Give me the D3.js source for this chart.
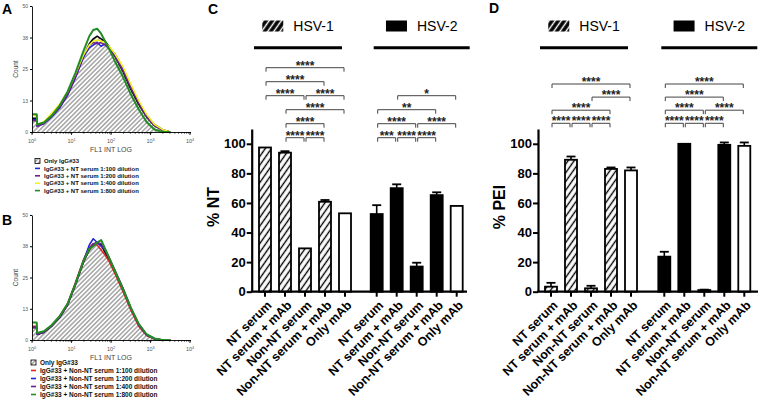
<!DOCTYPE html>
<html>
<head>
<meta charset="utf-8">
<script src="https://cdn.jsdelivr.net/npm/d3@7"></script>
<style>
  body { margin: 0; background: #fff; }
  svg { display: block; font-family: Arial, "Liberation Sans", sans-serif; }
</style>
</head>
<body>
<div id="fig"></div>
<script>
// ---- flow histograms (A, B): x in log10 units, y = count ----
var logBins = [0, 0.12, 0.13, 0.3, 0.5, 0.7, 0.9, 1.1, 1.3, 1.45, 1.55, 1.65, 1.75, 1.85, 1.95, 2.1, 2.3, 2.5, 2.7, 2.9, 3.1, 3.3, 3.5];

var onlyA   = [5.5, 5.5, 2.5, 3.5, 6.5, 10, 15, 22, 30, 35, 37, 38, 37, 36, 34, 30, 24, 17, 11, 6, 2.5, 0.8, 0];
var blueA   = [5, 5, 2.3, 3.3, 6, 9.5, 14.5, 21.5, 29.5, 33.5, 34.5, 35.5, 34, 35, 33.5, 31, 25.5, 18.5, 12, 6.5, 3, 1, 0];
var purpleA = [4.5, 4.5, 2.2, 3.4, 6.2, 9.8, 14.8, 21.8, 30, 34.5, 35.5, 35, 35.5, 34.5, 33, 30, 24.5, 17.5, 11.5, 6, 2.5, 0.8, 0];
var yellowA = [6.5, 6.5, 3, 4, 7.5, 11, 16, 23, 30.5, 34.5, 36, 36.5, 36, 35.5, 34, 31, 26, 19, 12.5, 7, 3, 1, 0];
var greenA  = [7, 7, 3, 3.8, 6.5, 10.5, 16, 23.5, 32, 38, 40.5, 41, 39, 36, 33, 28, 22, 15, 9, 4, 1, 0, 0];

var onlyB   = [5, 5, 2.2, 3, 5.5, 9, 14, 22, 31, 36, 38, 39, 38, 35, 32, 27, 20, 12.5, 6, 2, 0.5, 0, 0];
var redB    = [5.5, 5.5, 2.5, 3.3, 5.8, 9.5, 14.5, 23, 32, 37, 38.5, 38, 36, 34, 31.5, 26.5, 19.5, 12, 5.5, 1.8, 0.4, 0, 0];
var blueB   = [5, 5, 2.3, 3.2, 5.8, 9.2, 14.2, 22.5, 31.5, 38, 40.5, 39, 37.5, 36, 33, 27.5, 20.5, 12.8, 6.2, 2, 0.5, 0, 0];
var purpleB = [5, 5, 2.3, 3.2, 5.6, 9.1, 14, 22.2, 31, 36.5, 38.5, 39, 38.5, 36, 33, 28, 21, 13, 6.5, 2.2, 0.6, 0, 0];
var greenB  = [7, 7, 2.8, 3.5, 6, 9.5, 14.5, 22.5, 31.5, 36.5, 37.5, 39, 40, 36.5, 33, 27.5, 20.5, 13, 6.5, 2.3, 0.6, 0, 0];

var countTicks = [0, 12.5, 25, 37.5, 50];
var decades = [0, 1, 2, 3, 4];

var legendA = ["Only IgG#33", "IgG#33 + NT serum 1:100 dilution", "IgG#33 + NT serum 1:200 dilution",
               "IgG#33 + NT serum 1:400 dilution", "IgG#33 + NT serum 1:800 dilution"];
var legendB = ["Only IgG#33", "IgG#33 + Non-NT serum 1:100 dilution", "IgG#33 + Non-NT serum 1:200 dilution",
               "IgG#33 + Non-NT serum 1:400 dilution", "IgG#33 + Non-NT serum 1:800 dilution"];
var colorsA = ["#2323d6", "#6d1f8e", "#f4f41c", "#238c23"];
var colorsB = ["#e02222", "#2323d6", "#6d1f8e", "#238c23"];

// ---- bar charts (C, D) ----
var viruses = ["HSV-1", "HSV-2"];
var conditions = ["NT serum", "NT serum + mAb", "Non-NT serum", "Non-NT serum + mAb", "Only mAb"];
var ntHsv1 = [97.5, 94, 29.3, 60.8, 53];
var ntErr1 = [0, 1, 0, 1.2, 0];
var ntHsv2 = [52.5, 70, 17, 65.3, 58];
var ntErr2 = [6, 2.6, 2.6, 1.9, 0];
var peiHsv1 = [3.4, 89.2, 2.3, 83, 82];
var peiErr1 = [2.6, 2.2, 1.7, 1, 2];
var peiHsv2 = [23.7, 100, 1.1, 99.3, 98.6];
var peiErr2 = [3.3, 0, 0.3, 1.6, 2.3];
var pctTicks = [0, 20, 40, 60, 80, 100];

// comparisons: [virus, from, to, label, row]
var ntTests = [
  [0, 0, 4, "****", 5], [0, 0, 3, "****", 4], [0, 0, 2, "****", 3], [0, 2, 4, "****", 3],
  [0, 1, 4, "****", 2], [0, 1, 3, "****", 1], [0, 1, 2, "****", 0], [0, 2, 3, "****", 0],
  [1, 1, 4, "*", 3], [1, 0, 3, "**", 2], [1, 0, 2, "****", 1], [1, 2, 4, "****", 1],
  [1, 0, 1, "***", 0], [1, 1, 2, "****", 0], [1, 2, 3, "****", 0]
];
var peiTests = [
  [0, 0, 4, "****", 3], [0, 2, 4, "****", 2], [0, 0, 3, "****", 1],
  [0, 0, 1, "****", 0], [0, 1, 2, "****", 0], [0, 2, 3, "****", 0],
  [1, 0, 4, "****", 3], [1, 0, 3, "****", 2], [1, 0, 2, "****", 1], [1, 2, 4, "****", 1],
  [1, 0, 1, "****", 0], [1, 1, 2, "****", 0], [1, 2, 3, "****", 0]
];

var svg = d3.select("#fig").append("svg")
  .attr("width", 760)
  .attr("height", 408);

var defs = svg.append("defs");
function hatch(id, size, stroke, width, angle, bg) {
  var p = defs.append("pattern")
    .attr("id", id)
    .attr("patternUnits", "userSpaceOnUse")
    .attr("width", size)
    .attr("height", size)
    .attr("patternTransform", "rotate(" + angle + ")");
  p.append("rect").attr("width", size).attr("height", size).attr("fill", bg);
  p.append("line")
    .attr("x1", size / 2).attr("x2", size / 2)
    .attr("y1", 0).attr("y2", size)
    .attr("stroke", stroke)
    .attr("stroke-width", width);
}
hatch("hatchBar", 5, "#000", 1.4, 35, "#fff");
hatch("hatchHist", 3.2, "#555", 0.8, 45, "#fff");
hatch("hatchKey", 5, "#fff", 1.5, 35, "#000");

// panel letters
[["A", 2, 13.5], ["B", 2, 225], ["C", 208, 13.5], ["D", 489, 12.5]].forEach(function(l) {
  svg.append("text")
    .attr("x", l[1]).attr("y", l[2])
    .attr("font-size", 14).attr("font-weight", "bold")
    .text(l[0]);
});

function drawHist(top, bottom, series, colors, labels, key) {
  var g = svg.append("g");
  var x = d3.scaleLog().domain([1, 1e4]).range([32, 190]);
  var y = d3.scaleLinear().domain([0, 50]).range([bottom, top]);
  var pts = function(vals) {
    return vals.map(function(v, i) { return [Math.pow(10, logBins[i]), v]; });
  };
  var area = d3.area().x(d => x(d[0])).y0(y(0)).y1(d => y(d[1]));
  var line = d3.line().x(d => x(d[0])).y(d => y(d[1]));

  g.append("path").attr("d", area(pts(series[0]))).attr("fill", "url(#hatchHist)");
  series.forEach(function(s, i) {
    g.append("path")
      .attr("d", line(pts(s)))
      .attr("fill", "none")
      .attr("stroke", i ? colors[i - 1] : "#000")
      .attr("stroke-width", i == series.length - 1 ? 2 : 1.5)
      .attr("stroke-linejoin", "round");
  });

  var yAx = g.append("g")
    .attr("transform", "translate(32,0)")
    .call(d3.axisLeft(y).tickValues(countTicks).tickFormat(d3.format(".0f")).tickSize(2).tickPadding(2).tickSizeOuter(0));
  yAx.attr("font-family", null);
  yAx.select(".domain").attr("stroke-width", 0.9);
  yAx.selectAll("text").attr("font-size", 5).attr("fill", "#555");

  var xAx = g.append("g")
    .attr("transform", "translate(0," + bottom + ")")
    .call(d3.axisBottom(x).tickValues(x.ticks()).tickFormat("").tickSize(1.5).tickSizeOuter(0));
  xAx.select(".domain").attr("stroke-width", 0.9);
  decades.forEach(function(d) {
    var xv = x(Math.pow(10, d));
    g.append("line").attr("x1", xv).attr("x2", xv).attr("y1", bottom).attr("y2", bottom + 3).attr("stroke", "#000").attr("stroke-width", 0.8);
    var t = g.append("text").attr("x", xv).attr("y", bottom + 11).attr("text-anchor", "middle")
      .attr("font-size", 5.5).attr("fill", "#555");
    t.append("tspan").text("10");
    t.append("tspan").attr("dy", -2.5).attr("font-size", 3.8).text(d);
  });
  g.append("text").attr("x", 111).attr("y", bottom + 19.5).attr("text-anchor", "middle")
    .attr("font-size", 7).attr("fill", "#444").text("FL1 INT LOG");
  g.append("text").attr("transform", "translate(18," + ((top + bottom) / 2) + ") rotate(-90)")
    .attr("text-anchor", "middle").attr("font-size", 6.5).attr("fill", "#444").text("Count");

  labels.forEach(function(t, i) {
    var cy = key.top + i * key.step;
    if (i == 0) {
      g.append("rect").attr("x", key.x).attr("y", cy - 2.5).attr("width", 5).attr("height", 5)
        .attr("fill", "url(#hatchHist)").attr("stroke", "#000").attr("stroke-width", 0.8);
    } else {
      g.append("line").attr("x1", key.x).attr("x2", key.x + 5).attr("y1", cy).attr("y2", cy)
        .attr("stroke", colors[i - 1]).attr("stroke-width", 1.6);
    }
    g.append("text").attr("x", key.x + 9).attr("y", cy).attr("dy", "0.35em")
      .attr("font-size", key.fs).attr("font-weight", "bold").attr("fill", "#111").text(t);
  });
}

drawHist(6, 132, [onlyA, blueA, purpleA, yellowA, greenA], colorsA, legendA, {x: 35, top: 161, step: 7.4, fs: 6});
drawHist(215, 340, [onlyB, redB, blueB, purpleB, greenB], colorsB, legendB, {x: 31, top: 362.5, step: 8, fs: 6.5});

function drawBars(p) {
  var g = svg.append("g");
  var y = d3.scaleLinear().domain([0, 110]).range([291.7, 129]);
  var outer = d3.scaleBand().domain(viruses).range([p.x0, p.x1]).paddingInner(p.gap / (100 + p.gap));
  var inner = d3.scaleBand().domain(conditions).range([0, outer.bandwidth()]).paddingInner(0.3).paddingOuter(0.15);
  var cx = function(vi, ci) { return outer(viruses[vi]) + inner(conditions[ci]) + inner.bandwidth() / 2; };
  var fill = function(vi, ci) { return ci == 4 ? "#fff" : (vi == 0 ? "url(#hatchBar)" : "#000"); };

  var rows = [];
  viruses.forEach(function(v, vi) {
    conditions.forEach(function(c, ci) {
      rows.push({vi: vi, ci: ci, m: p.means[vi][ci], e: p.errs[vi][ci]});
    });
  });

  // error bars (upper half)
  rows.filter(d => d.e > 0).forEach(function(d) {
    var xc = cx(d.vi, d.ci);
    g.append("line").attr("x1", xc).attr("x2", xc).attr("y1", y(d.m)).attr("y2", y(d.m + d.e))
      .attr("stroke", "#000").attr("stroke-width", 1.6);
    g.append("line").attr("x1", xc - 4.5).attr("x2", xc + 4.5).attr("y1", y(d.m + d.e)).attr("y2", y(d.m + d.e))
      .attr("stroke", "#000").attr("stroke-width", 1.8);
  });

  g.selectAll("rect.bar")
    .data(rows)
    .enter()
    .append("rect")
    .attr("class", "bar")
    .attr("x", d => cx(d.vi, d.ci) - inner.bandwidth() / 2 + 1)
    .attr("width", inner.bandwidth() - 2)
    .attr("y", d => y(d.m))
    .attr("height", d => y(0) - y(d.m))
    .attr("fill", d => fill(d.vi, d.ci))
    .attr("stroke", "#000")
    .attr("stroke-width", 1.8);

  // axes
  var ya = g.append("g")
    .attr("transform", "translate(" + p.axisX + ",0)")
    .call(d3.axisLeft(y).tickValues(pctTicks).tickSize(5).tickPadding(1).tickSizeOuter(0));
  ya.attr("font-family", null);
  ya.select(".domain").attr("stroke-width", 2.2);
  ya.selectAll(".tick line").attr("stroke-width", 2);
  ya.selectAll("text").attr("font-size", 13).attr("font-weight", "bold").attr("fill", "#000");

  g.append("line").attr("x1", p.axisX - 1).attr("x2", p.xEnd).attr("y1", y(0)).attr("y2", y(0))
    .attr("stroke", "#000").attr("stroke-width", 2.2);
  rows.forEach(function(d) {
    var xc = cx(d.vi, d.ci);
    g.append("line").attr("x1", xc).attr("x2", xc).attr("y1", y(0)).attr("y2", y(0) + 5)
      .attr("stroke", "#000").attr("stroke-width", 2);
    g.append("text")
      .attr("transform", "translate(" + (xc + 2) + "," + (y(0) + 9) + ") rotate(-45)")
      .attr("text-anchor", "end")
      .attr("dy", "0.6em")
      .attr("font-size", 12.5)
      .attr("font-weight", "bold")
      .text(conditions[d.ci]);
  });

  g.append("text")
    .attr("transform", "translate(" + p.labelX + ",207) rotate(-90)")
    .attr("text-anchor", "middle")
    .attr("font-size", 16)
    .attr("font-weight", "bold")
    .text(p.label);

  // virus keys and group lines
  viruses.forEach(function(v, vi) {
    var a = vi == 0 ? cx(0, 0) - 11 : cx(1, 0) - 3;
    var b = vi == 0 ? cx(0, 4) - 3 : cx(1, 4) + 13;
    g.append("line").attr("x1", a).attr("x2", b).attr("y1", 47.7).attr("y2", 47.7)
      .attr("stroke", "#000").attr("stroke-width", 3);
    var item = g.append("g");
    item.append("rect").attr("x", 0).attr("y", 20.5).attr("width", 21).attr("height", 11)
      .attr("fill", vi ? "#000" : "url(#hatchKey)");
    var t = item.append("text").attr("x", 31).attr("y", 30.7).attr("font-size", 14).text(v);
    var w = 31 + t.node().getComputedTextLength();
    item.attr("transform", "translate(" + ((a + b) / 2 - w / 2) + ",0)");
  });

  // significance brackets
  p.tests.forEach(function(t) {
    var x1 = cx(t[0], t[1]) + 1, x2 = cx(t[0], t[2]) - 1;
    var yy = p.testY0 - t[4] * p.testStep;
    g.append("path")
      .attr("d", "M" + x1 + "," + (yy + 4) + "V" + yy + "H" + x2 + "V" + (yy + 4))
      .attr("fill", "none").attr("stroke", "#444").attr("stroke-width", 1);
    g.append("text")
      .attr("x", (x1 + x2) / 2).attr("y", yy + 2)
      .attr("text-anchor", "middle")
      .attr("font-size", 12).attr("font-weight", "bold").attr("fill", "#222")
      .text(t[3]);
  });
}

drawBars({
  means: [ntHsv1, ntHsv2], errs: [ntErr1, ntErr2], label: "% NT", tests: ntTests,
  axisX: 251.7, x0: 255, x1: 466.7, gap: 11.7, xEnd: 467, labelX: 219, testY0: 137.7, testStep: 14
});
drawBars({
  means: [peiHsv1, peiHsv2], errs: [peiErr1, peiErr2], label: "% PEI", tests: peiTests,
  axisX: 538, x0: 541, x1: 754.3, gap: 13.3, xEnd: 758, labelX: 505, testY0: 123.3, testStep: 13.1
});
</script>
</body>
</html>
